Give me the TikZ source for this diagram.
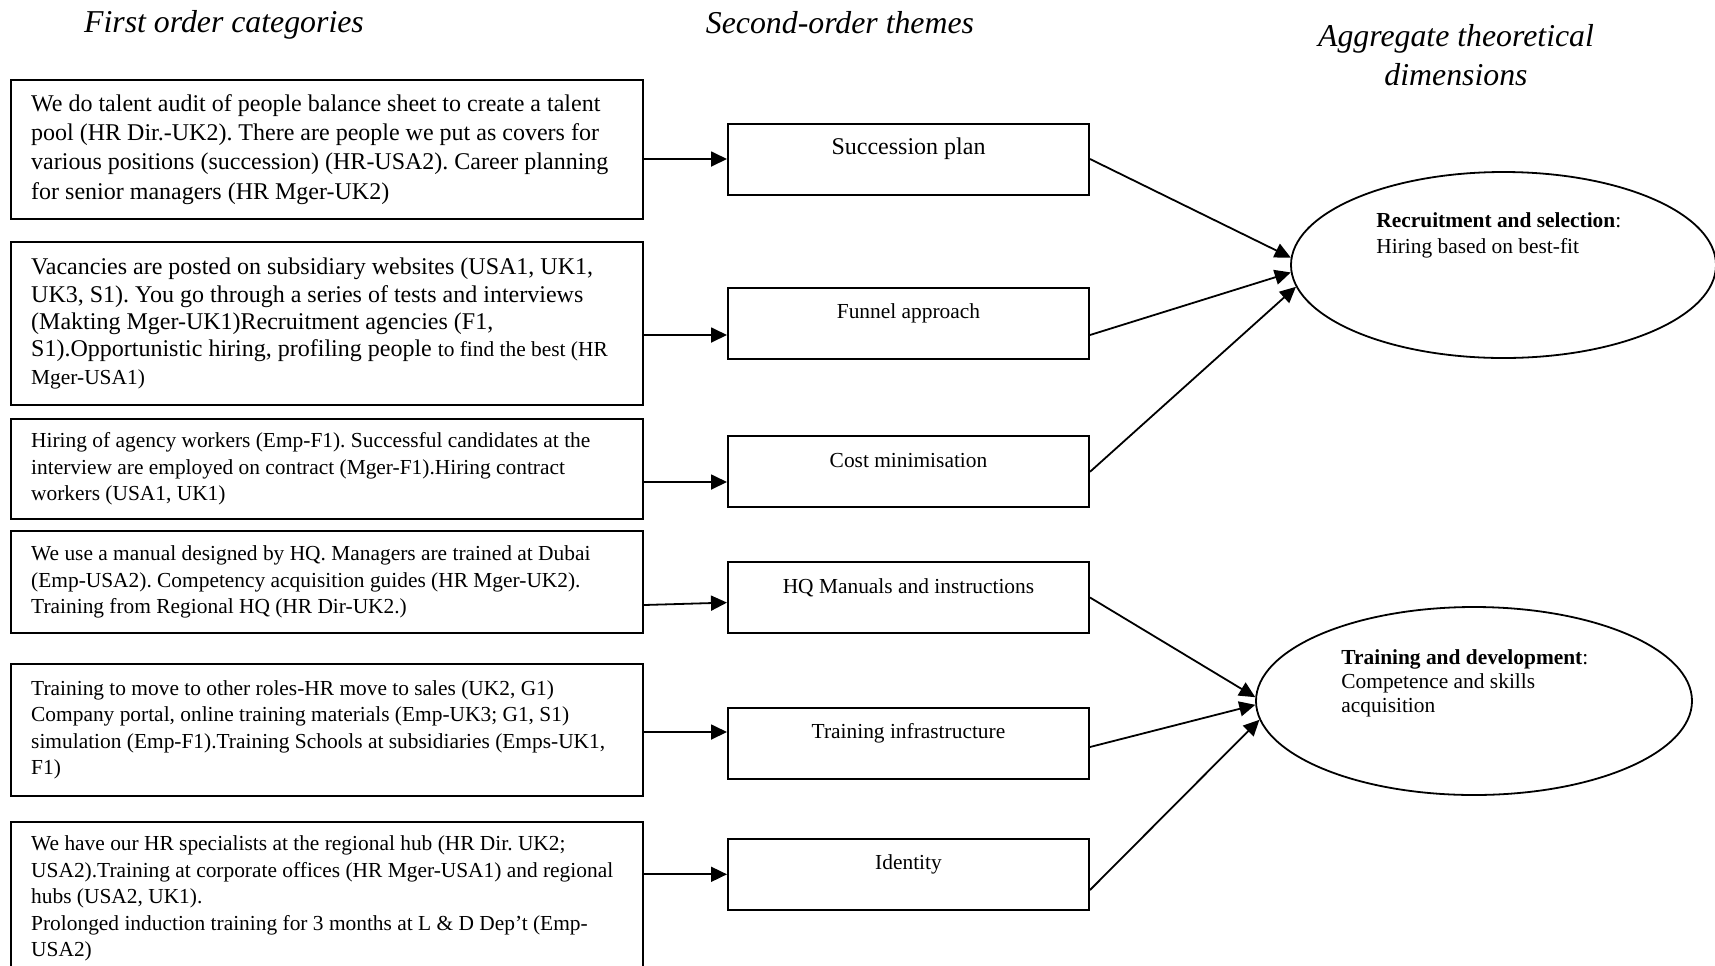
\documentclass[tikz,border=0pt]{standalone}
\usepackage{fontspec}
\setmainfont{Liberation Serif}
\usetikzlibrary{arrows.meta,shapes.geometric}
\frenchspacing

\begin{document}
\begin{tikzpicture}[x=0.5pt,y=-0.5pt,
  ttl/.style={inner sep=0pt, align=center, font=\fontsize{15.9}{19.5}\selectfont\itshape},
  lbox/.style={draw, line width=1pt, rectangle, minimum width=316pt, inner sep=0pt, anchor=north west},
  ltxt/.style={anchor=west, align=left, inner sep=0pt, font=\fontsize{10.7}{13.2}\selectfont},
  mbox/.style={draw, line width=1pt, rectangle, minimum width=180.5pt, inner xsep=0pt, inner ysep=0pt,
               text height=15.5pt, text depth=20pt, anchor=north west, font=\fontsize{10.7}{12}\selectfont},
  dimen/.style={draw, line width=0.9pt, ellipse, inner sep=0pt},
  etxt/.style={anchor=north west, align=left, inner sep=0pt},
  arr/.style={-{Triangle[length=8pt,width=7.5pt]}, line width=0.9pt}
]
\useasboundingbox (0,0) rectangle (1715,965);
\clip (0,0) rectangle (1715,965);

% column headings
\node[ttl] (h1) at (224,25) {First order categories};
\node[ttl] (h2) at (840,23) {Second-order themes};
\node[ttl] (h3) at (1456,55) {Aggregate theoretical\\dimensions};

% first order categories
\node[lbox, minimum height=69.5pt] (b1) at (10,79) {};
\node[ltxt, font=\fontsize{12}{14.6}\selectfont] (t1) at ([xshift=10.4pt]b1.west)
  {We do talent audit of people balance sheet to create a talent\\
   pool (HR Dir.-UK2). There are people we put as covers for\\
   various positions (succession) (HR-USA2). Career planning\\
   for senior managers (HR Mger-UK2)};

\node[lbox, minimum height=81.5pt] (b2) at (10,241) {};
\node[ltxt, font=\fontsize{12}{13.65}\selectfont] (t2) at ([xshift=10.4pt]b2.west)
  {Vacancies are posted on subsidiary websites (USA1, UK1,\\
   UK3, S1). You go through a series of tests and interviews\\
   (Makting Mger-UK1)Recruitment agencies (F1,\\
   S1).Opportunistic hiring, profiling people {\fontsize{10.7}{13.65}\selectfont to find the best (HR}\\
   {\fontsize{10.7}{13.65}\selectfont Mger-USA1)}};

\node[lbox, minimum height=50pt] (b3) at (10,418) {};
\node[ltxt] (t3) at ([xshift=10.4pt]b3.west)
  {Hiring of agency workers (Emp-F1). Successful candidates at the\\
   interview are employed on contract (Mger-F1).Hiring contract\\
   workers (USA1, UK1)};

\node[lbox, minimum height=51pt] (b4) at (10,530) {};
\node[ltxt] (t4) at ([xshift=10.4pt]b4.west)
  {We use a manual designed by HQ. Managers are trained at Dubai\\
   (Emp-USA2). Competency acquisition guides (HR Mger-UK2).\\
   Training from Regional HQ (HR Dir-UK2.)};

\node[lbox, minimum height=66pt] (b5) at (10,663) {};
\node[ltxt] (t5) at ([xshift=10.4pt]b5.west)
  {Training to move to other roles-HR move to sales (UK2, G1)\\
   Company portal, online training materials (Emp-UK3; G1, S1)\\
   simulation (Emp-F1).Training Schools at subsidiaries (Emps-UK1,\\
   F1)};

\node[lbox, minimum height=76.5pt] (b6) at (10,821) {};
\node[ltxt] (t6) at ([xshift=10.4pt]b6.west)
  {We have our HR specialists at the regional hub (HR Dir. UK2;\\
   USA2).Training at corporate offices (HR Mger-USA1) and regional\\
   hubs (USA2, UK1).\\
   Prolonged induction training for 3 months at L \& D Dep’t (Emp-\\
   USA2)};

% second-order themes
\node[mbox, font=\fontsize{12}{14}\selectfont] (m1) at (727,122.5) {Succession plan};
\node[mbox] (m2) at (727,286.6) {Funnel approach};
\node[mbox] (m3) at (727,435.3) {Cost minimisation};
\node[mbox] (m4) at (727,561)   {HQ Manuals and instructions};
\node[mbox] (m5) at (727,706.6) {Training infrastructure};
\node[mbox] (m6) at (727,837.8) {Identity};

% aggregate dimensions
\node[dimen, minimum width=212.5pt, minimum height=93pt] (e1) at (1503.5,265) {};
\node[etxt, font=\fontsize{10.7}{13.1}\selectfont] (e1t) at (1376,212.5)
  {\textbf{Recruitment and selection}:\\Hiring based on best-fit};
\node[dimen, minimum width=218pt, minimum height=94pt] (e2) at (1474,701) {};
\node[etxt, font=\fontsize{10.7}{12}\selectfont] (e2t) at (1341,649.5)
  {\textbf{Training and development}:\\Competence and skills\\acquisition};

% categories to themes
\draw[arr] (b1.east |- m1.west) -- (m1.west);
\draw[arr] (b2.east |- 0,335) -- (m2.west |- 0,335);
\draw[arr] (b3.east |- 0,482) -- (m3.west |- 0,482);
\draw[arr] (b4.east |- 0,605) -- (m4.west |- 0,602.6);
\draw[arr] (b5.east |- 0,732) -- (m5.west |- 0,732);
\draw[arr] (b6.east |- m6.west) -- (m6.west);

% themes to dimensions
\draw[arr] (m1.east) -- (e1.178.7);
\draw[arr] (m2.east |- 0,335) -- (e1.182.7);
\draw[arr] (m3.east) -- (e1.186.2);
\draw[arr] (m4.east) -- (e2.179.2);
\draw[arr] (m5.east |- 0,747) -- (e2.181.6);
\draw[arr] (m6.east |- 0,890) -- (e2.185.1);
\end{tikzpicture}
\end{document}
